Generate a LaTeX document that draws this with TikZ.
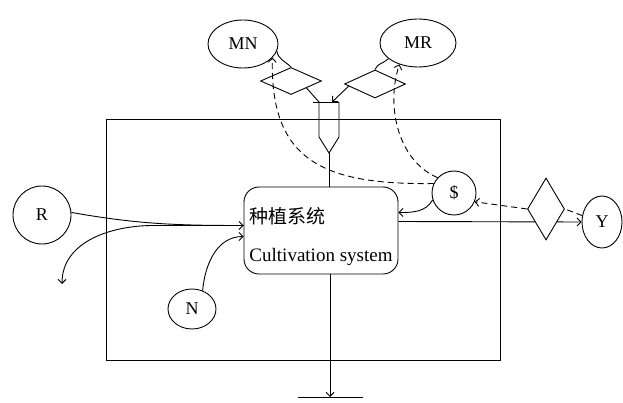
\documentclass[tikz,border=0pt]{standalone}
\usepackage{fontspec}
\setmainfont{Liberation Serif}
\newfontfamily\cjk{Noto Sans CJK SC}
\usetikzlibrary{shapes.geometric,arrows.meta,calc}

\begin{document}
\begin{tikzpicture}[x=1pt,y=-1pt,line width=0.9pt,
    >={Straight Barb[length=4pt,width=8pt]},
    pool/.style={draw,ellipse,inner sep=0pt,font=\fontsize{18}{20}\selectfont},
    gate/.style={draw,diamond,inner sep=0pt,fill=white},
    money/.style={dash pattern=on 6pt off 4pt}]
  \useasboundingbox (0,0) rectangle (623,403);
  \draw (106,119) rectangle (500,360);
  \node[draw,rounded corners=15pt,minimum width=154pt,minimum height=87pt,
        align=left,inner sep=0pt,font=\fontsize{19}{23}\selectfont]
        (sys) at (321,230.5) {{\cjk 种植系统}\rule{0pt}{28pt}\\[15pt]Cultivation system};
  \node[pool,circle,minimum size=58pt] (R) at (42,215) {R};
  \node[pool,minimum width=48pt,minimum height=40pt] (N) at (192,309) {N};
  \node[pool,minimum width=70pt,minimum height=48pt] (MN) at (243,44) {MN};
  \node[pool,minimum width=76pt,minimum height=48pt] (MR) at (418,43) {MR};
  \node[pool,minimum width=40pt,minimum height=52pt] (Y) at (602,222) {Y};
  \node[pool,circle,minimum size=44pt] (cash) at (454,193) {\$};
  \node[gate,minimum width=61pt,minimum height=27pt] (dMN) at (291,81) {};
  \node[gate,minimum width=61pt,minimum height=28pt] (dMR) at (375,84) {};
  % valve
  \coordinate (vtl) at (319,102);
  \coordinate (vtr) at (339,102);
  \coordinate (vin) at (332,102);
  \coordinate (vtip) at (329,153);
  \draw (313,102) -- (vtr);
  \draw (vtl) -- (319,137) -- (vtip) -- (339,137) -- (vtr);
  \draw (vtip) -- ([xshift=8pt]sys.north);
  \draw (MN.-12) to[out=-80,in=135] (dMN.north);
  \draw (dMN.south east) -- (vtl);
  \draw[->] ($(dMR.west)!0.15!(dMR.south)$) -- (vin);
  \draw (dMR.north) to[out=70,in=-135] (MR.-152);
  % money flows
  \draw[money,->] (cash.155) .. controls (322,185) and (270,160) .. (MN.-25);
  \draw[money,->] (cash.137) .. controls (397,160) and (386,105) .. (MR.-131);
  \draw[->] (cash.198) to[out=240,in=0] ([yshift=18pt]sys.east);
  % yield
  \draw[->] ([yshift=9pt]sys.east) -- (Y.west);
  \node[gate,minimum width=37pt,minimum height=62pt] (dY) at (546,209) {};
  \draw[money] (Y.162) -- (dY.east);
  \draw[money,->] (dY.west) -- (cash.-23);
  % inputs and losses
  \draw[->] (R.5) to[out=-10,in=180] ([yshift=5pt]sys.west);
  \coordinate (leak) at (62,284);
  \draw[->] ([yshift=5pt]sys.west) -- ++(-90,0) to[out=180,in=90] (leak);
  \draw[->] (N.60) to[out=85,in=180] ([yshift=-6pt]sys.west);
  \coordinate (sink) at (330,397);
  \draw[->] ([xshift=9pt]sys.south) -- (sink);
  \draw (298,397) -- (363,397);
\end{tikzpicture}
\end{document}
